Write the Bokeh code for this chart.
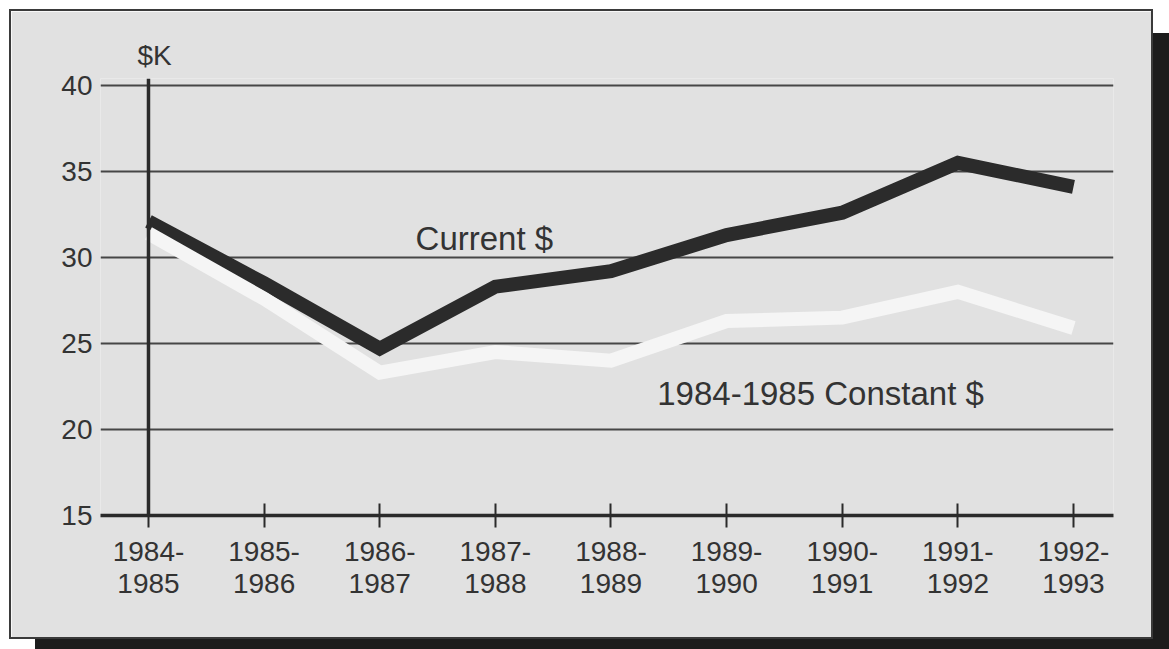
import numpy as np
from bokeh.plotting import figure
from bokeh.models import Range1d, FixedTicker, Span, Label
from bokeh.embed import file_html
from bokeh.resources import INLINE

# ---- data ----
periods = ["1984-1985", "1985-1986", "1986-1987", "1987-1988", "1988-1989",
           "1989-1990", "1990-1991", "1991-1992", "1992-1993"]
current_dollars = [32.1, 28.5, 24.7, 28.3, 29.2, 31.3, 32.6, 35.5, 34.1]
constant_dollars = [31.4, 27.6, 23.3, 24.5, 24.0, 26.3, 26.5, 28.0, 25.9]
y_ticks = [15, 20, 25, 30, 35, 40]
tick_labels = [s.replace("-", "-\n") for s in periods]

FONT = "Liberation Sans"
BG = "#e1e1e1"
INK = "#333333"
LINE_DARK = "#2b2b2b"
LINE_LIGHT = "#f5f5f5"

x = list(range(len(periods)))

p = figure(width=1144, height=630,
           x_range=Range1d(-0.415, 8.346), y_range=Range1d(y_ticks[0], 40.4),
           output_backend="svg", toolbar_location=None,
           min_border_left=89, min_border_right=42,
           min_border_top=67, min_border_bottom=126,
           background_fill_color=BG, border_fill_color=BG,
           outline_line_color=None, title="$K")

p.styles = {"border": "2px solid #3a3a3a",
            "box-shadow": "26px 24px 0 0 #1c1c1c",
            "transform": "translate(9px, 9px)"}

p.title.text_font = FONT
p.title.text_font_size = "28px"
p.title.text_font_style = "normal"
p.title.text_color = INK
p.title.align = "left"
p.title.offset = 37
p.title.standoff = 15

# grid
p.xgrid.grid_line_color = None
p.ygrid.ticker = FixedTicker(ticks=y_ticks)
p.ygrid.grid_line_color = "#464646"
p.ygrid.grid_line_width = 2

# y axis (labels only)
p.yaxis.ticker = FixedTicker(ticks=y_ticks)
p.yaxis.axis_line_color = None
p.yaxis.major_tick_line_color = None
p.yaxis.major_tick_in = 0
p.yaxis.major_tick_out = 0
p.yaxis.minor_tick_line_color = None
p.yaxis.major_label_standoff = 8
p.yaxis.major_label_text_font = FONT
p.yaxis.major_label_text_font_size = "28px"
p.yaxis.major_label_text_color = INK

# x axis at y = 15 (frame bottom)
p.xaxis.ticker = FixedTicker(ticks=x)
p.xaxis.major_label_overrides = {i: lab for i, lab in zip(x, tick_labels)}
p.xaxis.axis_line_color = "#2a2a2a"
p.xaxis.axis_line_width = 3.5
p.xaxis.major_tick_line_color = "#2a2a2a"
p.xaxis.major_tick_line_width = 2
p.xaxis.major_tick_in = 12
p.xaxis.major_tick_out = 12
p.xaxis.minor_tick_line_color = None
p.xaxis.major_label_standoff = 8
p.xaxis.major_label_text_font = FONT
p.xaxis.major_label_text_font_size = "28px"
p.xaxis.major_label_text_line_height = 1.05
p.xaxis.major_label_text_color = INK

# vertical axis line at the first period
p.add_layout(Span(location=x[0], dimension="height", line_color="#2a2a2a", line_width=3.5))

# series
p.line(x, current_dollars, line_width=14, line_color=LINE_DARK,
       line_join="miter", line_cap="butt")
p.line(x, constant_dollars, line_width=14, line_color=LINE_LIGHT,
       line_join="miter", line_cap="butt")

p.add_layout(Label(x=2.31, y=31.1, text="Current $", text_font=FONT,
                   text_font_size="33px", text_color=INK, text_baseline="alphabetic"))
p.add_layout(Label(x=4.40, y=22.1, text="1984-1985 Constant $", text_font=FONT,
                   text_font_size="33px", text_color=INK, text_baseline="alphabetic"))

open("out.html", "w").write(file_html(p, INLINE))
